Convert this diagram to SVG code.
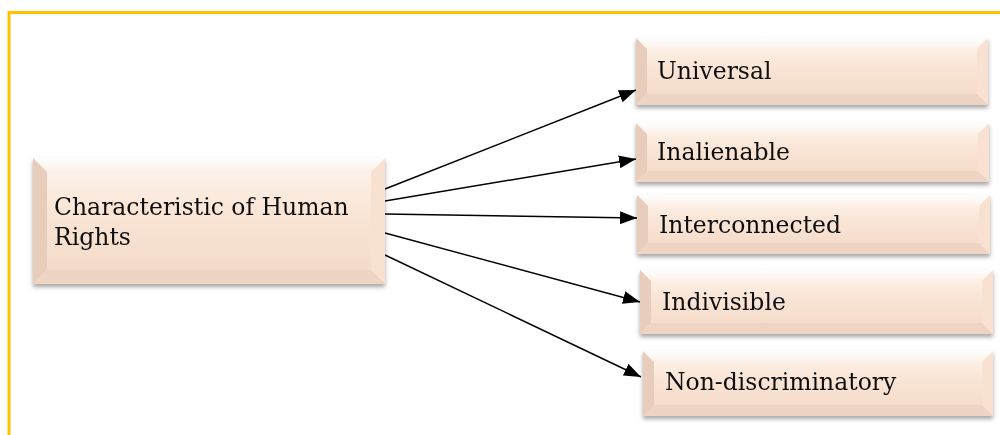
<svg xmlns="http://www.w3.org/2000/svg" width="1000" height="435" viewBox="0 0 1000 435">
<defs>
<style>
.lbl{font-family:"DejaVu Serif","Liberation Serif",serif;font-size:23.5px;fill:#111;}
.face{fill:url(#gFace);}
.bt{fill:url(#gTop);}
.bl{fill:#E8CDBC;}
.br{fill:#F8E1D1;}
.bb{fill:#EED4C2;}
.con{stroke:#000;stroke-width:1.4;fill:none;marker-end:url(#ah);}
.frame{stroke:#FFC000;stroke-width:3;fill:none;}
</style>
<linearGradient id="gFace" x1="0" y1="0" x2="0" y2="1">
<stop offset="0" stop-color="#FFF6EE"/>
<stop offset="0.45" stop-color="#F9E4D5"/>
<stop offset="1" stop-color="#F4D9C6"/>
</linearGradient>
<linearGradient id="gTop" x1="0" y1="0" x2="0" y2="1">
<stop offset="0" stop-color="#FFFFFF"/>
<stop offset="1" stop-color="#FCF0E6"/>
</linearGradient>
<filter id="sh" x="-5%" y="-10%" width="110%" height="130%">
<feDropShadow dx="0" dy="3" stdDeviation="2" flood-color="#000" flood-opacity="0.35"/>
</filter>
<marker id="ah" viewBox="0 0 10 10" refX="10" refY="5" markerWidth="17" markerHeight="13" markerUnits="userSpaceOnUse" orient="auto" preserveAspectRatio="none">
<path d="M0,0 L10,5 L0,10 z" fill="#000"/>
</marker>
</defs>
<g id="frame">
<path class="frame" d="M9,435 L9,12.5 L1000,12.5"/>
</g>
<g id="connectors">
<line class="con" x1="385" y1="189" x2="636" y2="90"/>
<line class="con" x1="385" y1="201" x2="636" y2="159"/>
<line class="con" x1="385" y1="214" x2="637" y2="218"/>
<line class="con" x1="385" y1="233" x2="640" y2="302"/>
<line class="con" x1="385" y1="255" x2="641" y2="377"/>
</g>
<g id="node-main" filter="url(#sh)">
<rect class="face" x="33" y="158" width="352" height="126"/>
<polygon class="bt" points="33,158 385,158 371,172 47,172"/>
<polygon class="bl" points="33,158 47,172 47,270 33,284"/>
<polygon class="br" points="385,158 371,172 371,270 385,284"/>
<polygon class="bb" points="33,284 47,270 371,270 385,284"/>
<text class="lbl" x="54" y="215">Characteristic of Human</text>
<text class="lbl" x="54" y="245">Rights</text>
</g>
<g id="node-universal" filter="url(#sh)">
<rect class="face" x="636" y="38" width="352" height="67"/>
<polygon class="bt" points="636,38 988,38 977,49 647,49"/>
<polygon class="bl" points="636,38 647,49 647,94 636,105"/>
<polygon class="br" points="988,38 977,49 977,94 988,105"/>
<polygon class="bb" points="636,105 647,94 977,94 988,105"/>
<text class="lbl" x="657" y="79">Universal</text>
</g>
<g id="node-inalienable" filter="url(#sh)">
<rect class="face" x="636" y="123" width="353" height="59"/>
<polygon class="bt" points="636,123 989,123 978,134 647,134"/>
<polygon class="bl" points="636,123 647,134 647,171 636,182"/>
<polygon class="br" points="989,123 978,134 978,171 989,182"/>
<polygon class="bb" points="636,182 647,171 978,171 989,182"/>
<text class="lbl" x="657" y="160">Inalienable</text>
</g>
<g id="node-interconnected" filter="url(#sh)">
<rect class="face" x="637" y="195" width="353" height="59"/>
<polygon class="bt" points="637,195 990,195 979,206 648,206"/>
<polygon class="bl" points="637,195 648,206 648,243 637,254"/>
<polygon class="br" points="990,195 979,206 979,243 990,254"/>
<polygon class="bb" points="637,254 648,243 979,243 990,254"/>
<text class="lbl" x="659" y="233">Interconnected</text>
</g>
<g id="node-indivisible" filter="url(#sh)">
<rect class="face" x="640" y="270" width="353" height="64"/>
<polygon class="bt" points="640,270 993,270 982,281 651,281"/>
<polygon class="bl" points="640,270 651,281 651,323 640,334"/>
<polygon class="br" points="993,270 982,281 982,323 993,334"/>
<polygon class="bb" points="640,334 651,323 982,323 993,334"/>
<text class="lbl" x="662" y="310">Indivisible</text>
</g>
<g id="node-nondiscriminatory" filter="url(#sh)">
<rect class="face" x="643" y="351" width="350" height="65"/>
<polygon class="bt" points="643,351 993,351 982,362 654,362"/>
<polygon class="bl" points="643,351 654,362 654,405 643,416"/>
<polygon class="br" points="993,351 982,362 982,405 993,416"/>
<polygon class="bb" points="643,416 654,405 982,405 993,416"/>
<text class="lbl" x="665" y="390">Non-discriminatory</text>
</g>
</svg>
